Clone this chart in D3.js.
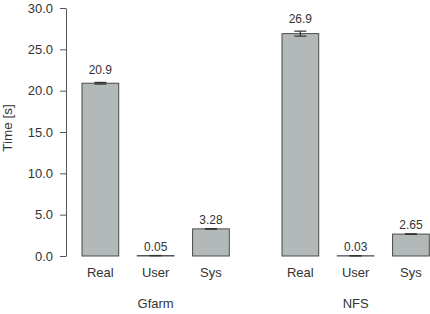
<!DOCTYPE html>
<html>
<head>
<meta charset="utf-8">
<script src="https://cdn.jsdelivr.net/npm/d3@7"></script>
<style>
  html, body { margin: 0; padding: 0; background: #fff; }
  svg { display: block; font-family: "Liberation Sans", Arial, Helvetica, sans-serif; }
</style>
</head>
<body>
<svg id="chart" width="430" height="314"></svg>
<script>
const groups = ["Gfarm", "NFS"];
const categories = ["Real", "User", "Sys"];
const gfarmValues = [20.9, 0.05, 3.28];
const nfsValues = [26.9, 0.03, 2.65];
const gfarmErrors = [0.1, 0.01, 0.03];
const nfsErrors = [0.3, 0.01, 0.03];
const valueLabels = [["20.9", "0.05", "3.28"], ["26.9", "0.03", "2.65"]];
const yTicks = [0, 5, 10, 15, 20, 25, 30];

const seriesValues = [gfarmValues, nfsValues];
const seriesErrors = [gfarmErrors, nfsErrors];

const svg = d3.select("#chart");
const textColor = "#333333";
const axisColor = "#555555";

const y = d3.scaleLinear().domain([0, 30]).range([256, 8]);
const xGroup = d3.scaleBand().domain(groups).range([82, 429.3]).paddingInner(0.2635).paddingOuter(0);
const xCat = d3.scaleBand().domain(categories).range([0, xGroup.bandwidth()]).paddingInner(0.336).paddingOuter(0);

// y axis
const yAxis = d3.axisLeft(y).tickValues(yTicks).tickFormat(d3.format(".1f")).tickSizeInner(6).tickSizeOuter(0).tickPadding(7);
const gy = svg.append("g").attr("transform", "translate(66,0)").call(yAxis);
gy.select(".domain").attr("stroke", axisColor);
gy.selectAll(".tick line").attr("stroke", axisColor);
gy.selectAll(".tick text").attr("fill", textColor).style("font-size", "13px").attr("font-family", "Liberation Sans, Arial, sans-serif");

// axis title
svg.append("text")
  .attr("transform", "translate(12,128) rotate(-90)")
  .attr("text-anchor", "middle")
  .attr("fill", textColor)
  .style("font-size", "13.5px")
  .text("Time [s]");

const data = [];
groups.forEach((g, gi) => {
  categories.forEach((c, ci) => {
    data.push({ g, c, gi, ci, v: seriesValues[gi][ci], e: seriesErrors[gi][ci], label: valueLabels[gi][ci] });
  });
});

const xCenter = d => xGroup(d.g) + xCat(d.c) + xCat.bandwidth() / 2;

// bars
svg.append("g").selectAll("rect").data(data).join("rect")
  .attr("x", d => xGroup(d.g) + xCat(d.c))
  .attr("y", d => y(d.v))
  .attr("width", xCat.bandwidth())
  .attr("height", d => y(0) - y(d.v))
  .attr("fill", "#b3b9b9")
  .attr("stroke", "#4a4a4a")
  .attr("stroke-width", 1);

// error bars
const eg = svg.append("g").attr("stroke", "#333").attr("stroke-width", 1.2);
data.forEach(d => {
  const cx = xCenter(d);
  eg.append("line").attr("x1", cx).attr("x2", cx).attr("y1", y(d.v - d.e)).attr("y2", y(d.v + d.e));
  eg.append("line").attr("x1", cx - 6).attr("x2", cx + 6).attr("y1", y(d.v + d.e)).attr("y2", y(d.v + d.e));
  eg.append("line").attr("x1", cx - 6).attr("x2", cx + 6).attr("y1", y(d.v - d.e)).attr("y2", y(d.v - d.e));
});

// value labels
svg.append("g").selectAll("text").data(data).join("text")
  .attr("x", xCenter)
  .attr("y", d => y(d.v + d.e) - (d.ci === 0 ? 8 : 5))
  .attr("text-anchor", "middle")
  .attr("fill", textColor)
  .style("font-size", "12px")
  .text(d => d.label);

// category labels
svg.append("g").selectAll("text").data(data).join("text")
  .attr("x", xCenter)
  .attr("y", 277)
  .attr("text-anchor", "middle")
  .attr("fill", textColor)
  .style("font-size", "13px")
  .text(d => d.c);

// group labels
svg.append("g").selectAll("text").data(groups).join("text")
  .attr("x", g => xGroup(g) + xGroup.bandwidth() / 2)
  .attr("y", 308)
  .attr("text-anchor", "middle")
  .attr("fill", textColor)
  .style("font-size", "13px")
  .text(g => g);
</script>
</body>
</html>
